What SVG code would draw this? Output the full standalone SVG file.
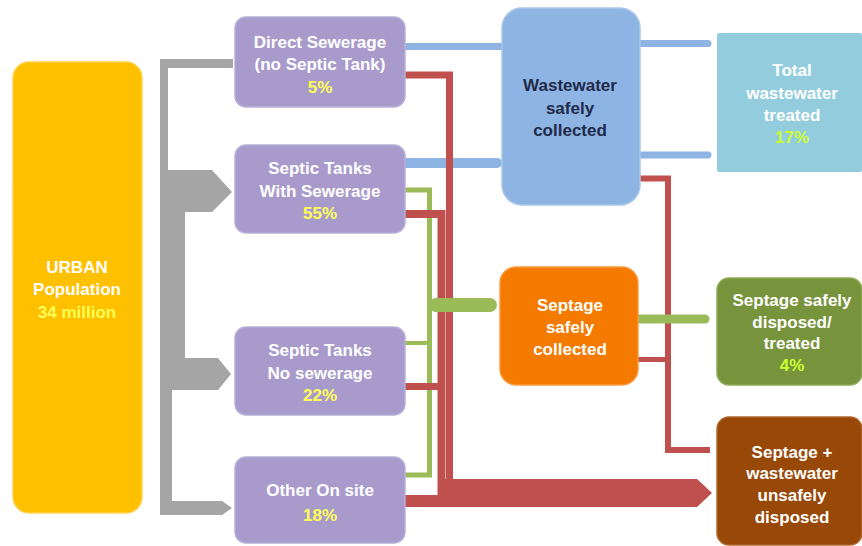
<svg xmlns="http://www.w3.org/2000/svg" width="862" height="546" viewBox="0 0 862 546">
<style>
.t{font-family:"Liberation Sans",Arial,sans-serif;font-weight:bold;font-size:17px;text-anchor:middle;fill:#FFFFFF}
.y{fill:#FFFF55}
.yg{fill:#CCFF33}
.dk{fill:#1F2A4A}
.pu{fill:#A89BCC;stroke:#B9AED8;stroke-width:1.5}
.red{fill:none;stroke:#C0504D;stroke-linejoin:miter}
.grn{fill:none;stroke:#9BBB59;stroke-linejoin:miter}
.blu{fill:none;stroke:#8EB4E3}
</style>
<rect width="862" height="546" fill="#FFFFFF"/>
<g id="connectors">
<path d="M233,59 H160 V515 H222 L232,508 L222,501 H172 V390 H218 L231,374 L218,358 H185 V212 H212 L232,192 L212,170 H168 V68 H233 Z" fill="#A5A5A5"/>
<line class="blu" x1="400" y1="46.5" x2="505" y2="46.5" stroke-width="7"/>
<line class="blu" x1="400" y1="163" x2="497" y2="163" stroke-width="10" stroke-linecap="round"/>
<line class="blu" x1="636" y1="43.5" x2="708" y2="43.5" stroke-width="7" stroke-linecap="round"/>
<line class="blu" x1="636" y1="155" x2="708" y2="155" stroke-width="7" stroke-linecap="round"/>
<path class="grn" d="M400,190 H429.5 V475 H400" stroke-width="5"/>
<line class="grn" x1="400" y1="343" x2="429.5" y2="343" stroke-width="4"/>
<path class="red" d="M400,75 H449.5 V485" stroke-width="7"/>
<path class="red" d="M400,214 H441.5 V495" stroke-width="8"/>
<line class="red" x1="400" y1="386.5" x2="441" y2="386.5" stroke-width="7"/>
<path d="M438,479 H697 L712,493 L697,507 H400 V495 H438 Z" fill="#C0504D"/>
<line x1="436" y1="305" x2="490" y2="305" stroke="#9BBB59" stroke-width="14" stroke-linecap="round"/>
<path class="red" d="M636,178.5 H668 V450 H710" stroke-width="6"/>
<line class="red" x1="636" y1="359.5" x2="668" y2="359.5" stroke-width="5"/>
<line x1="636" y1="319" x2="705" y2="319" stroke="#9BBB59" stroke-width="9" stroke-linecap="round"/>
</g>
<g id="urban">
<rect x="13" y="62" width="129" height="451" rx="16" fill="#FFC000" stroke="#FFD24D" stroke-width="1.5"/>
<text class="t" x="77" y="273">URBAN</text>
<text class="t" x="77" y="295">Population</text>
<text class="t y" x="77" y="318">34 million</text>
</g>
<g id="direct-sewerage">
<rect class="pu" x="235" y="17" width="170" height="90" rx="11"/>
<text class="t" x="320" y="48">Direct Sewerage</text>
<text class="t" x="320" y="70">(no Septic Tank)</text>
<text class="t y" x="320" y="93">5%</text>
</g>
<g id="septic-with-sewerage">
<rect class="pu" x="235" y="145" width="170" height="88" rx="11"/>
<text class="t" x="320" y="174">Septic Tanks</text>
<text class="t" x="320" y="197">With Sewerage</text>
<text class="t y" x="320" y="219">55%</text>
</g>
<g id="septic-no-sewerage">
<rect class="pu" x="235" y="327" width="170" height="88" rx="11"/>
<text class="t" x="320" y="356">Septic Tanks</text>
<text class="t" x="320" y="379">No sewerage</text>
<text class="t y" x="320" y="401">22%</text>
</g>
<g id="other-on-site">
<rect class="pu" x="235" y="457" width="170" height="86" rx="11"/>
<text class="t" x="320" y="496">Other On site</text>
<text class="t y" x="320" y="521">18%</text>
</g>
<g id="wastewater-collected">
<rect x="502" y="8" width="138" height="197" rx="20" fill="#8DB4E2" stroke="#A9C6EA" stroke-width="1.5"/>
<text class="t dk" x="570" y="91">Wastewater</text>
<text class="t dk" x="570" y="114">safely</text>
<text class="t dk" x="570" y="136">collected</text>
</g>
<g id="total-treated">
<rect x="717" y="33" width="145" height="139" rx="2" fill="#93CDDD"/>
<text class="t" x="792" y="76">Total</text>
<text class="t" x="792" y="99">wastewater</text>
<text class="t" x="792" y="121">treated</text>
<text class="t yg" x="792" y="143">17%</text>
</g>
<g id="septage-collected">
<rect x="500" y="267" width="138" height="118" rx="16" fill="#F47B00" stroke="#F79A3E" stroke-width="1.5"/>
<text class="t" x="570" y="311">Septage</text>
<text class="t" x="570" y="333">safely</text>
<text class="t" x="570" y="355">collected</text>
</g>
<g id="septage-treated">
<rect x="717" y="278" width="145" height="107" rx="12" fill="#77933C" stroke="#8FAA55" stroke-width="1.5"/>
<text class="t" x="792" y="306">Septage safely</text>
<text class="t" x="792" y="328">disposed/</text>
<text class="t" x="792" y="349">treated</text>
<text class="t yg" x="792" y="371">4%</text>
</g>
<g id="unsafely-disposed">
<rect x="717" y="417" width="145" height="128" rx="12" fill="#984807" stroke="#B0662A" stroke-width="1.5"/>
<text class="t" x="792" y="458">Septage +</text>
<text class="t" x="792" y="479">wastewater</text>
<text class="t" x="792" y="501">unsafely</text>
<text class="t" x="792" y="523">disposed</text>
</g>
</svg>
